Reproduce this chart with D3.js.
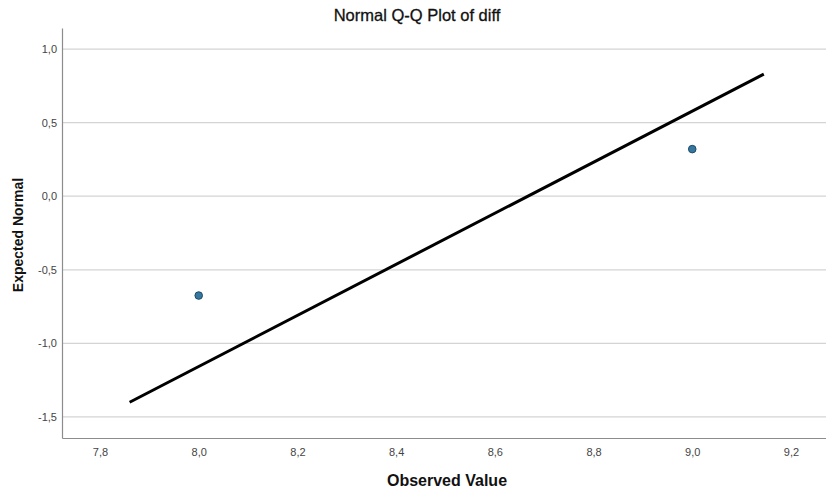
<!DOCTYPE html>
<html>
<head>
<meta charset="utf-8">
<script src="https://cdn.jsdelivr.net/npm/d3@7"></script>
<style>
body { margin: 0; background: #fff; }
svg { display: block; font-family: Arial, "Liberation Sans", sans-serif; }
</style>
</head>
<body>
<div id="chart"></div>
<script>
var svgWidth = 826;
var svgHeight = 497;

var margin = { top: 28, right: 0, bottom: 59, left: 62 };
var width = svgWidth - margin.left - margin.right;
var height = svgHeight - margin.top - margin.bottom;

// data
var observed = [8.0, 9.0];
var expected = [-0.675, 0.32];
var lineX = [7.86, 9.145];
var lineY = [-1.40, 0.83];
var xTicks = [7.8, 8.0, 8.2, 8.4, 8.6, 8.8, 9.0, 9.2];
var yTicks = [-1.5, -1.0, -0.5, 0.0, 0.5, 1.0];

var locale = d3.formatLocale({ decimal: ",", thousands: ".", grouping: [3], currency: ["", ""], minus: "-" });
var fmt = locale.format(".1f");

var svg = d3.select("#chart")
  .append("svg")
  .attr("width", svgWidth)
  .attr("height", svgHeight);

var chartGroup = svg.append("g")
  .attr("transform", `translate(${margin.left},${margin.top})`);

var xScale = d3.scaleLinear()
  .domain([7.723, 9.271])
  .range([0, width]);

var yScale = d3.scaleLinear()
  .domain([-1.643, 1.143])
  .range([height, 0]);

// gridlines
chartGroup.append("g")
  .selectAll("line")
  .data(yTicks)
  .enter()
  .append("line")
  .attr("x1", 0)
  .attr("x2", width)
  .attr("y1", d => yScale(d))
  .attr("y2", d => yScale(d))
  .attr("stroke", "#d4d4d4")
  .attr("stroke-width", 1.2);

var bottomAxis = d3.axisBottom(xScale).tickValues(xTicks).tickFormat(fmt).tickSize(0).tickPadding(10);
var leftAxis = d3.axisLeft(yScale).tickValues(yTicks).tickFormat(fmt).tickSize(0).tickPadding(5);

var xAxis = chartGroup.append("g")
  .attr("transform", `translate(0, ${height})`)
  .call(bottomAxis);

var yAxis = chartGroup.append("g")
  .call(leftAxis);

[xAxis, yAxis].forEach(function(ax) {
  ax.select(".domain").attr("stroke", "#8c8c8c").attr("stroke-width", 1.2);
  ax.selectAll("text").attr("font-size", "11px").attr("fill", "#444").attr("font-family", "Arial, 'Liberation Sans', sans-serif");
});

// reference line
var line = d3.line()
  .x(d => xScale(d[0]))
  .y(d => yScale(d[1]));

chartGroup.append("path")
  .datum(d3.zip(lineX, lineY))
  .attr("d", line)
  .attr("fill", "none")
  .attr("stroke", "#000")
  .attr("stroke-width", 3);

// points
chartGroup.append("g")
  .selectAll("circle")
  .data(d3.zip(observed, expected))
  .enter()
  .append("circle")
  .attr("cx", d => xScale(d[0]))
  .attr("cy", d => yScale(d[1]))
  .attr("r", 3.8)
  .attr("fill", "#3677a0")
  .attr("stroke", "#1d4a66")
  .attr("stroke-width", 1);

// title and labels
svg.append("text")
  .attr("x", 417)
  .attr("y", 21)
  .attr("text-anchor", "middle")
  .attr("font-size", "16.5px")
  .attr("fill", "#111")
  .attr("stroke", "#111")
  .attr("stroke-width", 0.3)
  .text("Normal Q-Q Plot of diff");

svg.append("text")
  .attr("transform", "rotate(-90)")
  .attr("x", -235)
  .attr("y", 23)
  .attr("text-anchor", "middle")
  .attr("font-size", "14px")
  .attr("font-weight", "bold")
  .attr("fill", "#111")
  .text("Expected Normal");

svg.append("text")
  .attr("x", 447)
  .attr("y", 486)
  .attr("text-anchor", "middle")
  .attr("font-size", "16px")
  .attr("font-weight", "bold")
  .attr("fill", "#111")
  .text("Observed Value");
</script>
</body>
</html>
